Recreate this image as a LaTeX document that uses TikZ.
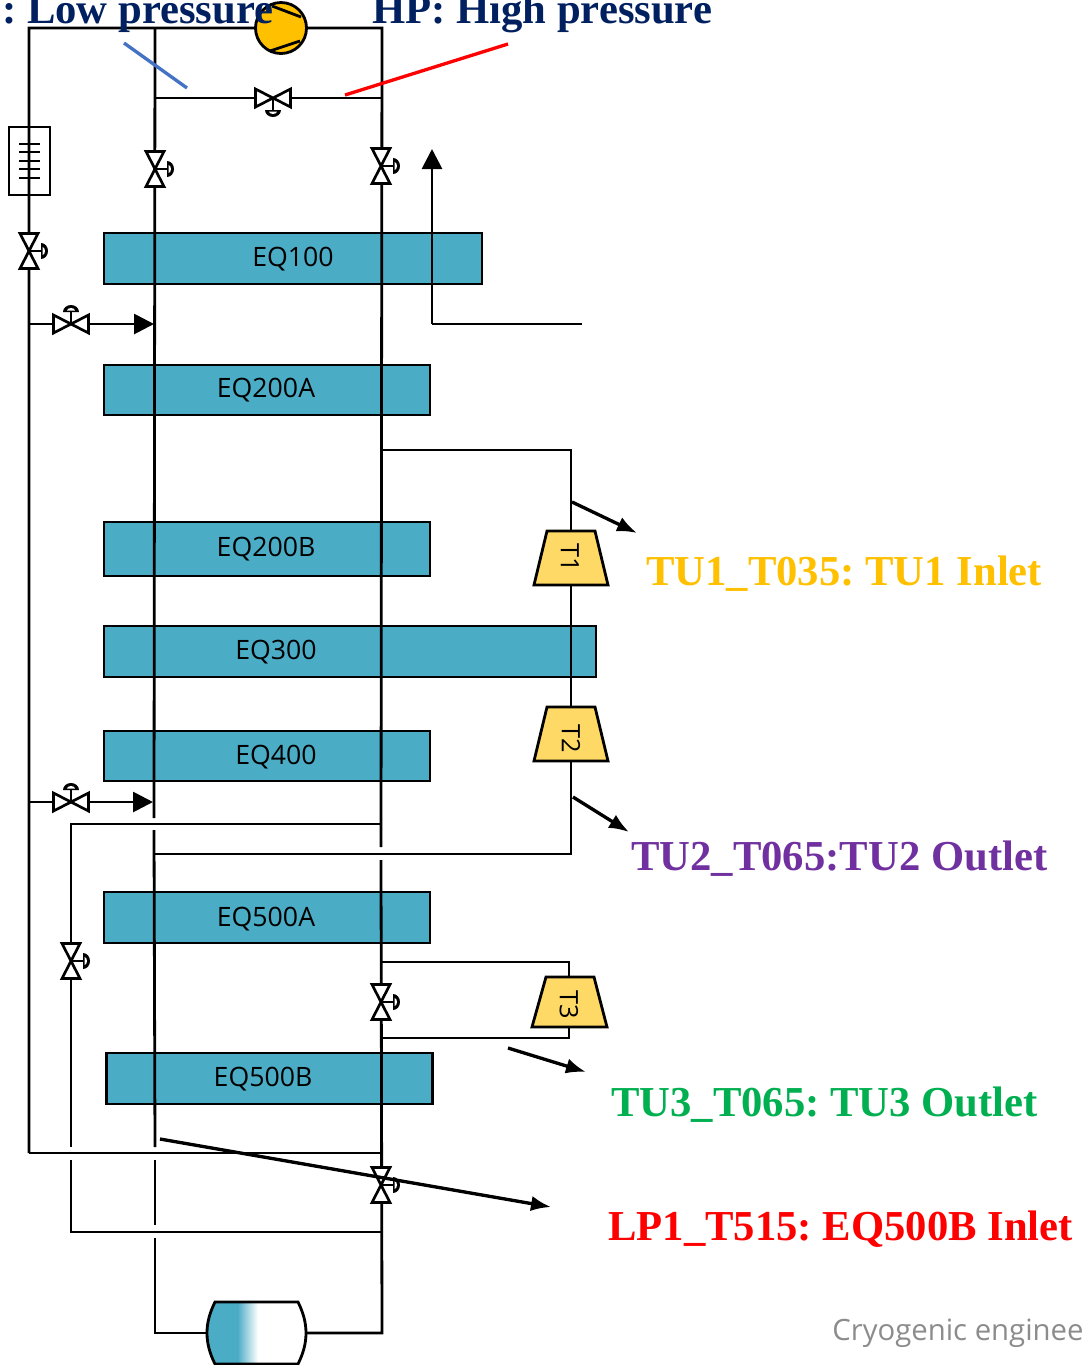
\documentclass[tikz,border=0pt]{standalone}
\usepackage{fontspec}
\setmainfont{Liberation Serif}
\newfontfamily\eqfont{Open Sans}
\usetikzlibrary{arrows.meta}
\definecolor{eqblue}{HTML}{4BACC6}
\definecolor{turb}{HTML}{FFD966}
\definecolor{comp}{HTML}{FFC000}
\definecolor{navy}{HTML}{002060}
\definecolor{lpblue}{HTML}{4472C4}
\definecolor{lbla}{HTML}{FFC000}
\definecolor{lblb}{HTML}{7030A0}
\definecolor{lblc}{HTML}{00B050}
\frenchspacing
\tikzset{
  x=0.75pt,y=-0.75pt,
  pipe/.style={draw=black,line width=2.1pt,line join=miter},
  pointer/.style={draw=black,line width=2.5pt,-{Latex[length=15pt,width=11.5pt]}},
  flowarrow/.style={draw=black,line width=2.1pt,-{Triangle[length=15pt,width=15pt]}},
  eqbox/.style={draw=black,line width=2.1pt,fill=eqblue,inner sep=0pt,outer sep=0pt,font=\eqfont\fontsize{20}{24}\selectfont},
  eqlabel/.style={font=\eqfont\fontsize{20}{24}\selectfont,inner sep=0pt},
  turbine/.style={draw=black,line width=2.1pt,fill=turb,line join=miter},
  turblabel/.style={font=\eqfont\fontsize{19}{20}\selectfont,inner sep=0pt,rotate=-90},
  biglabel/.style={font=\bfseries\fontsize{32}{38}\selectfont,inner sep=0pt,anchor=base west},
  pics/valve/.style={code={
    \draw[line width=2pt,fill=white,line join=miter] (-9,-17.5)--(9,-17.5)--(-9,17.5)--(9,17.5)--cycle;
    \draw[line width=2pt] (0,0)--(13,0);
    \fill[black] (12,-8) arc[start angle=-90,end angle=90,x radius=7,y radius=8] -- cycle;
    \fill[white] (13.5,-4) arc[start angle=-90,end angle=90,x radius=2.5,y radius=4]--cycle;
  }},
}
\begin{document}
\begin{tikzpicture}
\useasboundingbox (0,0) rectangle (1085,1365);
\clip (0,0) rectangle (1085,1365);
\fill[white] (0,0) rectangle (1085,1365);

% equipment boxes
\node[eqbox,minimum width=283.5pt,minimum height=38.25pt,anchor=north west] (eqa) at (104,233) {};
\node[eqbox,minimum width=244.5pt,minimum height=37.5pt,anchor=north west] (eqb) at (104,365) {};
\node[eqbox,minimum width=244.5pt,minimum height=40.5pt,anchor=north west] (eqc) at (104,522) {};
\node[eqbox,minimum width=369pt,minimum height=38.25pt,anchor=north west] (eqd) at (104,626) {};
\node[eqbox,minimum width=244.5pt,minimum height=37.5pt,anchor=north west] (eqe) at (104,731) {};
\node[eqbox,minimum width=244.5pt,minimum height=38.25pt,anchor=north west] (eqf) at (104,892) {};
\node[eqbox,minimum width=244.5pt,minimum height=38.25pt,anchor=north west] (eqg) at (106.5,1053) {};
\node[eqlabel] (la) at (293,259) {EQ100};
\node[eqlabel] (lb) at (266,390) {EQ200A};
\node[eqlabel] (lc) at (266,549) {EQ200B};
\node[eqlabel] (ld) at (276,652) {EQ300};
\node[eqlabel] (le) at (276,757) {EQ400};
\node[eqlabel] (lf) at (266,919) {EQ500A};
\node[eqlabel] (lg) at (263,1079) {EQ500B};

% named points
\coordinate (tl) at (29,28);
\coordinate (tm) at (155,28);
\coordinate (tr) at (382,28);
\coordinate (bypl) at (155,98);
\coordinate (bypr) at (382,98);
\coordinate (ll) at (29,1153);
\coordinate (lr) at (382,1153);
\coordinate (inja) at (29,324);
\coordinate (injat) at (154,324);
\coordinate (injb) at (29,802);
\coordinate (injbt) at (153,802);
\coordinate (lpa) at (154,818);
\coordinate (lpb) at (154,830);
\coordinate (lpc) at (155,1147);
\coordinate (lpd) at (155,1160);
\coordinate (lpe) at (155,1225);
\coordinate (lpf) at (155,1238);
\coordinate (lpg) at (155,1333);
\coordinate (hpa) at (381,847);
\coordinate (hpb) at (381,860);
\coordinate (hpc) at (382,1333);
\coordinate (outa) at (582,324);
\coordinate (outb) at (432,324);
\coordinate (outc) at (432,149);
\coordinate (tia) at (382,450);
\coordinate (tib) at (571,450);
\coordinate (tic) at (571,854);
\coordinate (tid) at (154,854);
\coordinate (sba) at (382,824);
\coordinate (sbb) at (71,824);
\coordinate (sbc) at (71,1147);
\coordinate (sbd) at (71,1160);
\coordinate (sbe) at (71,1232);
\coordinate (sbf) at (382,1232);
\coordinate (tta) at (382,962);
\coordinate (ttb) at (569,962);
\coordinate (ttc) at (569,1038);
\coordinate (ttd) at (382,1038);

% pipes
\draw[pipe] (ll)--(tl)--(tr)--(hpa);
\draw[pipe] (hpb)--(hpc)--(306,1333);
\draw[pipe] (tm)--(lpa);
\draw[pipe] (lpb)--(lpc);
\draw[pipe] (lpd)--(lpe);
\draw[pipe] (lpf)--(lpg)--(207,1333);
\draw[pipe] (bypl)--(bypr);
\draw[pipe] (ll)--(lr);
\draw[pipe] (outa)--(outb);
\draw[flowarrow] (outb)--(outc);
\draw[flowarrow] (inja)--(injat);
\draw[flowarrow] (injb)--(injbt);
\draw[pipe] (tia)--(tib)--(tic)--(tid);
\draw[pipe] (sba)--(sbb)--(sbc);
\draw[pipe] (sbd)--(sbe)--(sbf);
\draw[pipe] (tta)--(ttb)--(ttc)--(ttd);

% heater
\draw[line width=2pt] (9,127) rectangle (50,195);
\draw[pipe] (29,127)--(29,195);
\foreach \yy in {144,152,161,169,178} \draw[line width=2pt] (19,\yy)--(40,\yy);

% valves
\path (155,169) pic {valve};
\path (381,166) pic {valve};
\path (29,251) pic {valve};
\path (71,961) pic {valve};
\path (381,1002) pic {valve};
\path (381,1185) pic {valve};
\path (273,98) pic[rotate=-90] {valve};
\path (71,324) pic[rotate=90] {valve};
\path (71,802) pic[rotate=90] {valve};

% turbines
\draw[turbine] (547,531)--(595,531)--(608,585)--(534,585)--cycle;
\draw[turbine] (547,707)--(595,707)--(608,761)--(534,761)--cycle;
\draw[turbine] (546,977)--(594,977)--(607,1027)--(532,1027)--cycle;
\node[turblabel] (t1) at (570,558) {T1};
\node[turblabel] (t2) at (571,739) {T2};
\node[turblabel] (t3) at (569,1005) {T3};

% drum
\begin{scope}
\clip (215,1302)--(298,1302) .. controls (303,1312) and (306,1322) .. (306,1333) .. controls (306,1344) and (303,1354) .. (298,1364)--(215,1364) .. controls (210,1354) and (207,1344) .. (207,1333) .. controls (207,1322) and (210,1312) .. (215,1302)--cycle;
\fill[eqblue] (200,1295) rectangle (238,1370);
\shade[left color=eqblue,right color=white] (237.5,1295) rectangle (258,1370);
\end{scope}
\draw[line width=2.1pt] (215,1302)--(298,1302) .. controls (303,1312) and (306,1322) .. (306,1333) .. controls (306,1344) and (303,1354) .. (298,1364)--(215,1364) .. controls (210,1354) and (207,1344) .. (207,1333) .. controls (207,1322) and (210,1312) .. (215,1302)--cycle;

% compressor
\draw[line width=2.1pt,fill=comp] (281,28) circle[radius=25.5];
\draw[line width=2.1pt] (272,6)--(301,17);
\draw[line width=2.1pt] (270,51)--(300,41);

% top labels
\node[biglabel,text=navy] (lp) at (2,23) {: Low pressure};
\node[biglabel,text=navy] (hp) at (372,23) {HP: High pressure};
\draw[line width=2.5pt,draw=lpblue] (124,43)--(187,88);
\draw[line width=2.5pt,draw=red] (345,95)--(508,44);

% pointers
\coordinate (pa) at (572,502); \coordinate (pb) at (637,533);
\coordinate (pc) at (573,797); \coordinate (pd) at (629,832);
\coordinate (pe) at (508,1048); \coordinate (pf) at (586,1072);
\coordinate (pg) at (160,1139); \coordinate (ph) at (551,1207);
\draw[pointer] (pa)--(pb);
\draw[pointer] (pc)--(pd);
\draw[pointer] (pe)--(pf);
\draw[pointer] (pg)--(ph);

% labels
\node[biglabel,text=lbla] (n1) at (646,585) {TU1\_T035: TU1 Inlet};
\node[biglabel,text=lblb] (n2) at (631,870) {TU2\_T065:TU2 Outlet};
\node[biglabel,text=lblc] (n3) at (611,1116) {TU3\_T065: TU3 Outlet};
\node[biglabel,text=red] (n4) at (608,1240) {LP1\_T515: EQ500B Inlet};
\node[font=\eqfont\fontsize{22}{24}\selectfont,text=black!45,inner sep=0pt,anchor=base west] (wm) at (832,1340) {Cryogenic enginee};
\end{tikzpicture}
\end{document}
